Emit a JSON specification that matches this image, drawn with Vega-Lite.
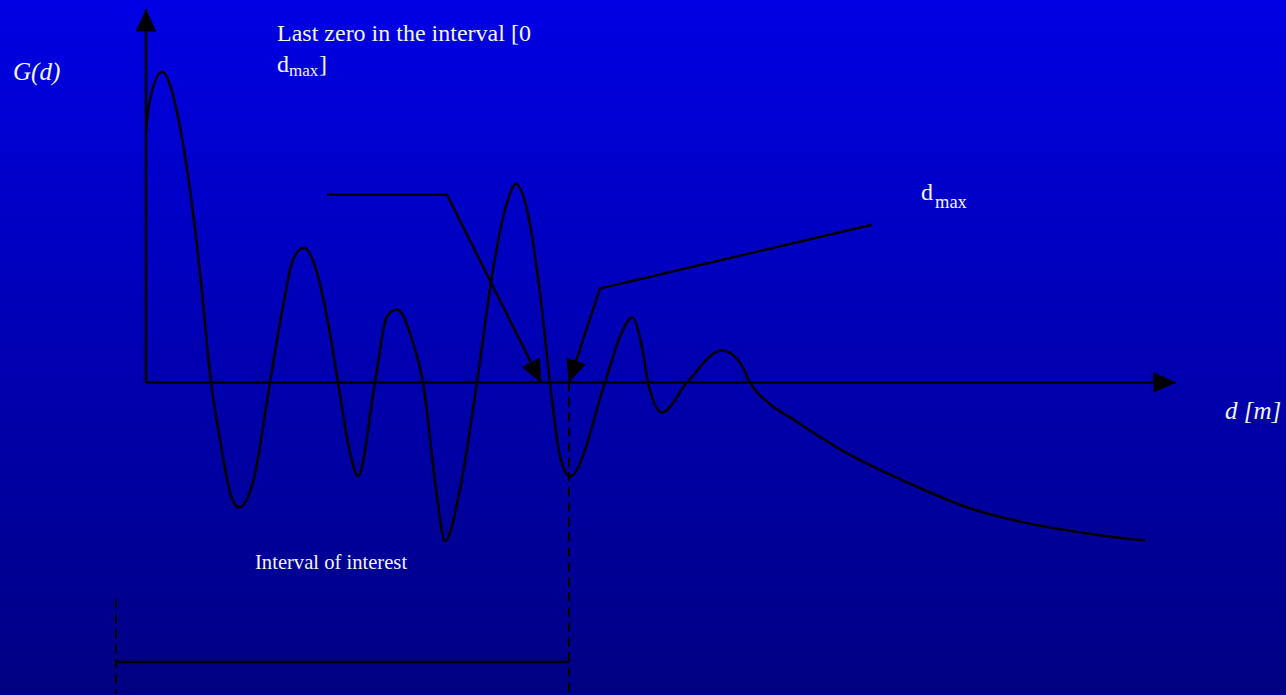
{
  "$schema": "https://vega.github.io/schema/vega-lite/v6.json",
  "width": 1286,
  "height": 695,
  "autosize": {"type": "fit", "contains": "padding"},
  "padding": 0,
  "background": "#0000b0",
  "config": {
    "view": {
      "stroke": null,
      "fill": {
        "gradient": "linear",
        "x1": 0, "y1": 0, "x2": 0, "y2": 1,
        "stops": [
          {"offset": 0, "color": "#0000e4"},
          {"offset": 1, "color": "#000082"}
        ]
      }
    }
  },
  "datasets": {
    "curve": [
      {"d": 0, "G": 250}, {"d": 3, "G": 278}, {"d": 16, "G": 311}, {"d": 34, "G": 256},
      {"d": 44, "G": 193}, {"d": 54, "G": 110}, {"d": 65, "G": 0}, {"d": 74, "G": -57},
      {"d": 84, "G": -110}, {"d": 93, "G": -125}, {"d": 107, "G": -100}, {"d": 124, "G": 0},
      {"d": 137, "G": 76}, {"d": 147, "G": 123}, {"d": 158, "G": 135}, {"d": 171, "G": 110},
      {"d": 182, "G": 60}, {"d": 192, "G": 0}, {"d": 204, "G": -70}, {"d": 212, "G": -94},
      {"d": 229, "G": 0}, {"d": 241, "G": 66}, {"d": 251, "G": 73}, {"d": 267, "G": 40},
      {"d": 277, "G": 0}, {"d": 291, "G": -114}, {"d": 299, "G": -159}, {"d": 314, "G": -107},
      {"d": 331, "G": 0}, {"d": 347, "G": 113}, {"d": 361, "G": 180}, {"d": 370, "G": 199},
      {"d": 381, "G": 173}, {"d": 394, "G": 90}, {"d": 404, "G": 0}, {"d": 414, "G": -74},
      {"d": 424, "G": -94}, {"d": 459, "G": 0}, {"d": 474, "G": 46}, {"d": 486, "G": 65},
      {"d": 497, "G": 30}, {"d": 502, "G": 0}, {"d": 516, "G": -30}, {"d": 541, "G": 0},
      {"d": 576, "G": 32}, {"d": 594, "G": 20}, {"d": 604, "G": 0}, {"d": 627, "G": -24},
      {"d": 644, "G": -35}, {"d": 694, "G": -67}, {"d": 761, "G": -100}, {"d": 827, "G": -127},
      {"d": 877, "G": -140}, {"d": 927, "G": -149}, {"d": 977, "G": -156}, {"d": 999, "G": -158}
    ],
    "axes": [
      {"d": 0, "G": 0, "d2": 1030, "G2": 0},
      {"d": 0, "G": 0, "d2": 0, "G2": 374}
    ],
    "leaders": [
      {"leader": "last zero", "step": 1, "d": 181, "G": 188},
      {"leader": "last zero", "step": 2, "d": 301, "G": 188},
      {"leader": "last zero", "step": 3, "d": 395, "G": 0},
      {"leader": "dmax", "step": 1, "d": 726, "G": 158},
      {"leader": "dmax", "step": 2, "d": 454, "G": 94},
      {"leader": "dmax", "step": 3, "d": 423, "G": 0}
    ],
    "arrowheads": [
      {"d": 0, "G": 374, "heading": 0},
      {"d": 1030, "G": 0, "heading": 90},
      {"d": 395, "G": 0, "heading": 153.4},
      {"d": 423, "G": 0, "heading": 198.2}
    ],
    "bounds": [
      {"d": 423, "G": 0, "d2": 423, "G2": -312},
      {"d": -30, "G": -217, "d2": -30, "G2": -312}
    ],
    "span": [
      {"d": -30, "G": -280, "d2": 423, "G2": -280}
    ],
    "labels": [
      {"part": "main", "text": "Last zero in the interval [0", "d": 131, "G": 342},
      {"part": "main", "text": "d", "d": 131, "G": 311},
      {"part": "sub", "text": "max", "d": 143, "G": 307},
      {"part": "main", "text": "]", "d": 173, "G": 311},
      {"part": "main", "text": "d", "d": 775, "G": 183},
      {"part": "subright", "text": "max", "d": 789, "G": 175},
      {"part": "note", "text": "Interval of interest", "d": 109, "G": -187},
      {"part": "axis", "text": "G(d)", "d": -133, "G": 303},
      {"part": "axis", "text": "d [m]", "d": 1079, "G": -37}
    ]
  },
  "encoding": {
    "x": {"field": "d", "type": "quantitative", "axis": null,
          "scale": {"domain": [-146, 1140], "nice": false, "zero": false}},
    "y": {"field": "G", "type": "quantitative", "axis": null,
          "scale": {"domain": [-312, 383], "nice": false, "zero": false}}
  },
  "layer": [
    {
      "data": {"name": "curve"},
      "mark": {"type": "line", "interpolate": "monotone", "color": "black", "strokeWidth": 2.5},
      "encoding": {}
    },
    {
      "data": {"name": "axes"},
      "mark": {"type": "rule", "color": "black", "strokeWidth": 2.5},
      "encoding": {
        "x2": {"field": "d2"},
        "y2": {"field": "G2"}
      }
    },
    {
      "data": {"name": "leaders"},
      "mark": {"type": "line", "color": "black", "strokeWidth": 2.5},
      "encoding": {
        "detail": {"field": "leader", "type": "nominal"},
        "order": {"field": "step", "type": "quantitative"}
      }
    },
    {
      "data": {"name": "arrowheads"},
      "mark": {"type": "point", "shape": "M0,0L-1,2.2L1,2.2Z", "filled": true,
               "color": "black", "opacity": 1, "strokeWidth": 0, "size": 420},
      "encoding": {
        "angle": {"field": "heading", "type": "quantitative", "scale": null}
      }
    },
    {
      "data": {"name": "bounds"},
      "mark": {"type": "rule", "color": "black", "strokeWidth": 2, "strokeDash": [9, 6]},
      "encoding": {
        "x2": {"field": "d2"},
        "y2": {"field": "G2"}
      }
    },
    {
      "data": {"name": "span"},
      "mark": {"type": "rule", "color": "black", "strokeWidth": 2.5},
      "encoding": {
        "x2": {"field": "d2"},
        "y2": {"field": "G2"}
      }
    },
    {
      "data": {"name": "labels"},
      "transform": [{"filter": "datum.part === 'main'"}],
      "mark": {"type": "text", "align": "left", "baseline": "alphabetic",
               "font": "Liberation Serif", "fontSize": 24, "color": "#f4f4f4"},
      "encoding": {"text": {"field": "text"}}
    },
    {
      "data": {"name": "labels"},
      "transform": [{"filter": "datum.part === 'sub'"}],
      "mark": {"type": "text", "align": "left", "baseline": "alphabetic",
               "font": "Liberation Serif", "fontSize": 17, "color": "#f4f4f4"},
      "encoding": {"text": {"field": "text"}}
    },
    {
      "data": {"name": "labels"},
      "transform": [{"filter": "datum.part === 'subright'"}],
      "mark": {"type": "text", "align": "left", "baseline": "alphabetic",
               "font": "Liberation Serif", "fontSize": 18.5, "color": "#f4f4f4"},
      "encoding": {"text": {"field": "text"}}
    },
    {
      "data": {"name": "labels"},
      "transform": [{"filter": "datum.part === 'note'"}],
      "mark": {"type": "text", "align": "left", "baseline": "alphabetic",
               "font": "Liberation Serif", "fontSize": 20.6, "color": "#f4f4f4"},
      "encoding": {"text": {"field": "text"}}
    },
    {
      "data": {"name": "labels"},
      "transform": [{"filter": "datum.part === 'axis'"}],
      "mark": {"type": "text", "align": "left", "baseline": "alphabetic",
               "font": "Liberation Serif", "fontStyle": "italic", "fontSize": 25, "color": "#f4f4f4"},
      "encoding": {"text": {"field": "text"}}
    }
  ]
}
